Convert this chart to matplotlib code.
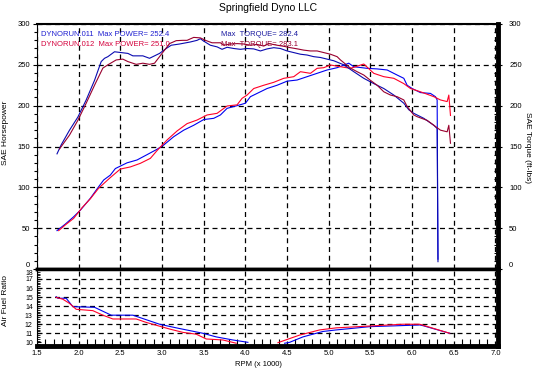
import numpy as np
import matplotlib
matplotlib.use("Agg")
import matplotlib.pyplot as plt
from matplotlib.ticker import MultipleLocator

plt.rcParams['font.family'] = ['Liberation Sans', 'DejaVu Sans']

# Torque (ft-lbs), run 011 / 012
tq011_rpm = [1.74, 1.79, 1.89, 1.99, 2.09, 2.19, 2.27, 2.31, 2.35, 2.43, 2.51, 2.59, 2.65, 2.77,
             2.85, 2.91, 2.97, 3.05, 3.11, 3.21, 3.34, 3.42, 3.46, 3.5, 3.58, 3.66, 3.72, 3.78,
             3.86, 3.94, 4.02, 4.1, 4.18, 4.26, 4.34, 4.42, 4.5, 4.58, 4.66, 4.74, 4.82, 4.9,
             4.98, 5.06, 5.18, 5.3, 5.42, 5.54, 5.66, 5.78, 5.9, 5.96, 6.02, 6.14, 6.26, 6.3, 6.31]
tq011 = [141, 152, 170, 186, 207, 231, 254, 258, 260, 266, 265, 264, 261, 261,
         258, 261, 264, 270, 274, 275.5, 278, 280, 282, 279, 274, 272, 269, 271.5,
         270, 269, 270, 269.5, 267, 269.5, 271, 270, 267, 265, 263, 262, 260, 259,
         257, 255, 250, 241.6, 233.5, 227, 221, 213, 203, 195, 190.6, 184.5, 176, 172, 9]

tq012_rpm = [1.77, 1.89, 1.99, 2.09, 2.19, 2.29, 2.35, 2.45, 2.53, 2.59, 2.69, 2.77, 2.85, 2.91,
             2.97, 3.03, 3.09, 3.17, 3.25, 3.3, 3.38, 3.46, 3.52, 3.6, 3.7, 3.74, 3.82, 3.9,
             3.98, 4.06, 4.14, 4.22, 4.28, 4.38, 4.46, 4.54, 4.62, 4.7, 4.78, 4.86, 4.94, 5.02,
             5.1, 5.14, 5.26, 5.34, 5.42, 5.5, 5.58, 5.66, 5.74, 5.82, 5.9, 5.94, 6.02, 6.06,
             6.18, 6.26, 6.34, 6.42, 6.44, 6.46]
tq012 = [147, 164, 182, 203, 225, 246, 250, 256, 257, 254, 250.6, 252, 250.6, 252,
         260, 268, 276, 279.6, 280, 280, 283.6, 283, 280, 277, 277, 274, 275.5, 276,
         275.5, 274, 275, 273, 276, 274, 272.7, 271, 269.6, 268, 267, 267, 265, 263,
         260, 256, 246, 241.6, 237.5, 231, 225, 217, 213, 211, 207, 199, 188.6, 186.5,
         182, 176, 170, 168, 176, 154]

# SAE horsepower, run 011 / 012
hp011_rpm = [1.74, 1.84, 1.94, 2.02, 2.14, 2.24, 2.3, 2.38, 2.44, 2.58, 2.7, 2.82, 2.94, 3.02,
             3.14, 3.26, 3.38, 3.5, 3.62, 3.7, 3.78, 3.9, 4.0, 4.06, 4.14, 4.26, 4.38, 4.5,
             4.62, 4.74, 4.86, 4.98, 5.1, 5.24, 5.3, 5.46, 5.58, 5.7, 5.82, 5.9, 5.94, 6.0,
             6.1, 6.22, 6.28, 6.3, 6.31]
hp011 = [47, 55, 64, 72, 86.6, 100.8, 109, 115, 123, 130, 133.5, 140, 146.6, 151.8,
         162, 170, 176, 183, 184.5, 188.6, 196.7, 200, 203, 211, 215, 221, 225, 230,
         231.4, 235.5, 239.6, 243.7, 246.5, 252, 247.7, 245.7, 245, 243.7, 237.5, 233.5, 225, 221,
         216, 215, 211, 207, 12]

hp012_rpm = [1.76, 1.84, 1.94, 2.04, 2.14, 2.24, 2.38, 2.5, 2.62, 2.74, 2.86, 2.94, 3.06, 3.18,
             3.3, 3.42, 3.54, 3.66, 3.78, 3.9, 3.96, 4.02, 4.1, 4.22, 4.34, 4.46, 4.58, 4.66,
             4.78, 4.86, 4.94, 5.02, 5.14, 5.26, 5.42, 5.54, 5.66, 5.78, 5.9, 5.98, 6.1, 6.26,
             6.34, 6.42, 6.44, 6.46]
hp012 = [47, 54, 62, 75, 86, 99, 112, 122.4, 125, 129.4, 135.5, 145, 158, 169,
         178, 182.4, 188.6, 190.6, 199.6, 201, 209, 213, 221, 225, 228.6, 233.5, 235.5, 241.6,
         239.6, 245.7, 246.5, 249.8, 247.7, 245.7, 251, 239.6, 235.5, 233.5, 227, 221, 217, 211,
         207, 205, 213, 188]

# Air fuel ratio (gap = below visible range)
afr011_rpm = [1.73, 1.75, 1.85, 1.93, 2.19, 2.39, 2.65, 2.97, 3.17, 3.49, 3.65, 3.85, 4.03,
              4.25, 4.47, 4.53, 4.69, 4.93, 5.09, 5.29, 5.49, 5.85, 6.09, 6.13, 6.45]
afr011 = [15.04, 14.87, 14.87, 13.94, 13.87, 13.0, 13.0, 12.0, 11.6, 11.0, 10.6, 10.26, 10.0,
          np.nan, 9.9, 10.0, 10.6, 11.2, 11.37, 11.55, 11.73, 11.84, 11.92, 11.84, 11.0]
afr012_rpm = [1.73, 1.81, 1.89, 1.97, 2.17, 2.29, 2.41, 2.69, 2.81, 3.09, 3.25, 3.41, 3.53,
              3.73, 3.89, 4.15, 4.39, 4.65, 4.89, 5.09, 5.49, 5.89, 6.09, 6.45]
afr012 = [14.97, 14.76, 14.3, 13.65, 13.5, 13.0, 12.58, 12.58, 12.2, 11.47, 11.1, 10.9, 10.37,
          10.26, 9.9, np.nan, 9.96, 10.8, 11.37, 11.6, 11.8, 12.0, 12.0, 11.0]

rpm_ticks = np.arange(1.5, 7.01, 0.5)
hp_ticks = np.arange(0, 301, 50)
afr_ticks = np.arange(10, 19, 1)

c_hp011, c_tq011 = "#0000f0", "#0a0ab0"
c_hp012, c_tq012 = "#ff0028", "#99002e"

W, H = 537, 372
fig = plt.figure(figsize=(W / 100, H / 100), dpi=100)
left, right = 37, 498
ax = fig.add_axes([left / W, 1 - 269 / H, (right - left) / W, 245 / H])
ax3 = fig.add_axes([left / W, 1 - 345.5 / H, (right - left) / W, 76.5 / H])
ax2 = ax.twinx()

gridkw = dict(color="black", linestyle=(0, (4, 3)), linewidth=0.9)
fs = 5.5

# upper panel
ax.plot(hp011_rpm, hp011, color=c_hp011, lw=0.8)
ax.plot(hp012_rpm, hp012, color=c_hp012, lw=0.8)
ax2.plot(tq011_rpm, tq011, color=c_tq011, lw=0.8)
ax2.plot(tq012_rpm, tq012, color=c_tq012, lw=0.8)
for a in (ax, ax2):
    a.set_xlim(1.5, 7.03)
    a.set_ylim(0, 300)
ax.set_xticks(rpm_ticks)
ax.set_yticks(hp_ticks)
ax.yaxis.set_minor_locator(MultipleLocator(10))
ax.grid(True, **gridkw)
ax.tick_params(axis="x", length=0, labelbottom=False)
ax.tick_params(axis="y", which="major", direction="out", length=3, width=0.8, labelsize=fs, pad=2)
ax.tick_params(axis="y", which="minor", direction="out", length=2, width=0.8)
ax.spines["top"].set_linewidth(1.5)
ax.spines["bottom"].set_linewidth(2.5)
ax.spines["left"].set_linewidth(0.8)
ax.spines["right"].set_visible(False)

ax2.set_yticks(hp_ticks)
ax2.yaxis.set_minor_locator(MultipleLocator(10))
ax2.tick_params(axis="y", which="major", direction="out", length=3, width=0.8, labelsize=fs, pad=5)
ax2.tick_params(axis="y", which="minor", direction="in", length=3, width=0.8)
for s in ("top", "bottom", "left"):
    ax2.spines[s].set_visible(False)
ax2.spines["right"].set_linewidth(3.5)

# zero labels sit just above the panel divider
ax.get_yticklabels()[0].set_va("bottom")
ax2.get_yticklabels()[0].set_va("bottom")

ax.text(0.009, 0.959, "DYNORUN.011  Max POWER= 252.4", color="#1f1fd0", fontsize=fs,
        transform=ax.transAxes, va="center")
ax.text(0.009, 0.918, "DYNORUN.012  Max POWER= 251.0", color="#d4003c", fontsize=fs,
        transform=ax.transAxes, va="center")
ax.text(0.399, 0.959, "Max  TORQUE= 282.4", color="#1a1aa0", fontsize=fs,
        transform=ax.transAxes, va="center")
ax.text(0.399, 0.918, "Max  TORQUE= 283.1", color="#99002e", fontsize=fs,
        transform=ax.transAxes, va="center")

# lower panel
ax3.plot(afr011_rpm, afr011, color=c_hp011, lw=0.8)
ax3.plot(afr012_rpm, afr012, color=c_hp012, lw=0.8)
ax3.set_xlim(1.5, 7.03)
ax3.set_ylim(9.65, 18.1)
ax3.set_xticks(rpm_ticks)
ax3.set_xticklabels(["%.1f" % v for v in rpm_ticks])
ax3.set_yticks(afr_ticks)
ax3.xaxis.set_minor_locator(MultipleLocator(0.1))
ax3.yaxis.set_minor_locator(MultipleLocator(0.2))
ax3.grid(True, **gridkw)
ax3.get_ygridlines()[0].set_visible(False)
ax3.get_ygridlines()[-1].set_visible(False)
ax3.tick_params(axis="x", which="major", direction="in", length=0, labelsize=fs, pad=3)
ax3.tick_params(axis="x", which="minor", direction="in", length=5, width=0.8)
ax3.tick_params(axis="y", which="major", direction="in", length=3, width=0.8, labelsize=5, pad=3)
ax3.tick_params(axis="y", which="minor", direction="in", length=2.5, width=0.6)
ax3.get_yticklabels()[-1].set_va("top")
ax3.spines["top"].set_linewidth(2.5)
ax3.spines["bottom"].set_linewidth(3.5)
ax3.spines["right"].set_linewidth(3.5)
ax3.spines["left"].set_linewidth(0.8)

# titles and labels
fig.text(268 / W, 1 - 8 / H, "Springfield Dyno LLC", ha="center", va="center", fontsize=7.5)
fig.text(6 / W, 1 - 133 / H, "SAE Horsepower", rotation=90, ha="center", va="center", fontsize=6)
fig.text(6 / W, 1 - 300 / H, "Air Fuel Ratio", rotation=90, ha="center", va="center", fontsize=6)
fig.text(528 / W, 1 - 148 / H, "SAE Torque (ft-lbs)", rotation=270, ha="center", va="center",
         fontsize=6)
fig.text(258 / W, 1 - 364 / H, "RPM (x 1000)", ha="center", va="center", fontsize=fs)

fig.savefig("out.png", dpi=100)
